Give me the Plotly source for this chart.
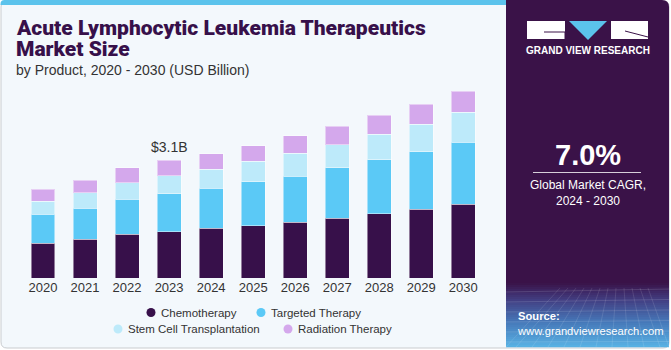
import plotly.graph_objects as go

# ---------------- data ----------------
years = ['2020', '2021', '2022', '2023', '2024', '2025', '2026', '2027', '2028', '2029', '2030']
chemotherapy = [0.91, 1.02, 1.15, 1.22, 1.31, 1.38, 1.47, 1.58, 1.69, 1.81, 1.94]
targeted_therapy = [0.77, 0.82, 0.93, 1.00, 1.05, 1.15, 1.21, 1.32, 1.42, 1.52, 1.63]
stem_cell_transplantation = [0.34, 0.40, 0.43, 0.47, 0.51, 0.55, 0.61, 0.61, 0.67, 0.72, 0.80]
radiation_therapy = [0.32, 0.34, 0.40, 0.41, 0.40, 0.40, 0.45, 0.49, 0.50, 0.53, 0.55]
series_names = ['Chemotherapy', 'Targeted Therapy', 'Stem Cell Transplantation', 'Radiation Therapy']
title_lines = ['Acute Lymphocytic Leukemia Therapeutics', 'Market Size']
subtitle = 'by Product, 2020 - 2030 (USD Billion)'
highlight_year = '2023'
highlight_label = '$3.1B'
cagr_value = '7.0%'
cagr_text = 'Global Market CAGR,<br>2024 - 2030'

series_values = [chemotherapy, targeted_therapy, stem_cell_transplantation, radiation_therapy]
colors = ['#37104A', '#5BC9F6', '#BDEAFA', '#D4A8EC']

W, H = 671, 350
def px(x):
    return x / W
def py(y):
    return 1 - y / H

fig = go.Figure()
for name, vals, col in zip(series_names, series_values, colors):
    fig.add_trace(go.Bar(
        x=years, y=vals, name=name,
        marker=dict(color=col, line=dict(color='rgba(255,255,255,0.45)', width=1)),
        showlegend=False, hoverinfo='skip'))

shapes = []
annotations = []

def rrect(x0, y0, x1, y1, r, tl=True, tr=True, br=True, bl=True):
    X0, X1 = px(x0), px(x1)
    Y0, Y1 = py(y0), py(y1)
    rx, ry = r / W, r / H
    p = f'M {X0 + (rx if tl else 0)},{Y0} '
    p += f'L {X1 - (rx if tr else 0)},{Y0} '
    if tr:
        p += f'Q {X1},{Y0} {X1},{Y0 - ry} '
    p += f'L {X1},{Y1 + (ry if br else 0)} '
    if br:
        p += f'Q {X1},{Y1} {X1 - rx},{Y1} '
    p += f'L {X0 + (rx if bl else 0)},{Y1} '
    if bl:
        p += f'Q {X0},{Y1} {X0},{Y1 + ry} '
    p += f'L {X0},{Y0 - (ry if tl else 0)} '
    if tl:
        p += f'Q {X0},{Y0} {X0 + rx},{Y0} '
    p += 'Z'
    return p

# card background
shapes.append(dict(type='path', xref='paper', yref='paper', layer='below',
                   path=rrect(1, 1, 669, 348, 6), fillcolor='#F3F8FC',
                   line=dict(color='#C9CCCF', width=1)))
# top stripe
shapes.append(dict(type='path', xref='paper', yref='paper', layer='below',
                   path=rrect(0.5, 0, 507, 5, 4, tr=False, br=False, bl=False),
                   fillcolor='#5BC3EC', line=dict(width=0)))
# right panel
shapes.append(dict(type='path', xref='paper', yref='paper', layer='below',
                   path=rrect(506, 0, 669, 347, 7, tl=False, br=False, bl=False),
                   fillcolor='#3A1248', line=dict(width=0)))

# gradient at bottom of panel
def lerp(c1, c2, t):
    return '#%02X%02X%02X' % tuple(int(round(a + (b - a) * t)) for a, b in zip(c1, c2))
stops = [(283, (58, 18, 72)), (300, (66, 62, 130)), (322, (70, 120, 185)), (347, (88, 178, 228))]
n = 32
y_start, y_end = 283, 347
for i in range(n):
    ya = y_start + (y_end - y_start) * i / n
    yb = y_start + (y_end - y_start) * (i + 1) / n
    ym = (ya + yb) / 2
    for (s0, c0), (s1, c1) in zip(stops[:-1], stops[1:]):
        if s0 <= ym <= s1:
            col = lerp(c0, c1, (ym - s0) / (s1 - s0))
            break
    shapes.append(dict(type='rect', xref='paper', yref='paper', layer='below',
                       x0=px(506), x1=px(669), y0=py(ya), y1=py(yb + 0.3),
                       fillcolor=col, line=dict(width=0)))
# faint grid texture
for k in range(6):
    yy = 292 + k * 10
    shapes.append(dict(type='line', xref='paper', yref='paper', layer='below',
                       x0=px(506), x1=px(669), y0=py(yy), y1=py(yy - 3 + k * 0.5),
                       line=dict(color='rgba(255,255,255,0.13)', width=1)))
for k in range(12):
    xb = 500 + k * 16
    shapes.append(dict(type='line', xref='paper', yref='paper', layer='below',
                       x0=px(max(506, min(669, 560 + k * 8))), y0=py(288),
                       x1=px(max(506, min(669, xb))), y1=py(347),
                       line=dict(color='rgba(255,255,255,0.11)', width=1)))

# logo
shapes.append(dict(type='rect', xref='paper', yref='paper', x0=px(527), x1=px(565),
                   y0=py(39), y1=py(21), fillcolor='white', line=dict(width=0)))
shapes.append(dict(type='path', xref='paper', yref='paper',
                   path=f'M {px(544)},{py(32)} L {px(565)},{py(32)} L {px(565)},{py(39)}',
                   line=dict(color='#3A1248', width=1)))
shapes.append(dict(type='path', xref='paper', yref='paper',
                   path=f'M {px(569)},{py(21)} L {px(607)},{py(21)} L {px(588)},{py(40)} Z',
                   fillcolor='#5BC3EC', line=dict(width=0)))
shapes.append(dict(type='rect', xref='paper', yref='paper', x0=px(611), x1=px(648),
                   y0=py(39), y1=py(21), fillcolor='white', line=dict(width=0)))
shapes.append(dict(type='line', xref='paper', yref='paper', x0=px(625), y0=py(31),
                   x1=px(648), y1=py(37), line=dict(color='#3A1248', width=1)))
annotations.append(dict(text='GRAND VIEW RESEARCH', xref='paper', yref='paper',
                        x=px(587.5), y=py(51), xanchor='center', yanchor='middle', showarrow=False,
                        font=dict(family='Liberation Sans', size=10, color='white', weight=700)))

# CAGR block
annotations.append(dict(text=f'<b>{cagr_value}</b>', xref='paper', yref='paper',
                        x=px(588), y=py(155), xanchor='center', yanchor='middle', showarrow=False,
                        font=dict(family='Liberation Sans', size=29, color='white')))
shapes.append(dict(type='line', xref='paper', yref='paper', x0=px(533), x1=px(641),
                   y0=py(172.5), y1=py(172.5), line=dict(color='rgba(255,255,255,0.8)', width=1)))
annotations.append(dict(text=cagr_text, xref='paper', yref='paper',
                        x=px(588), y=py(193), xanchor='center', yanchor='middle', showarrow=False,
                        font=dict(family='Liberation Sans', size=12, color='white')))
annotations.append(dict(text='<b>Source:</b><br>www.grandviewresearch.com', xref='paper', yref='paper',
                        x=px(515), y=py(323), xanchor='left', yanchor='middle', showarrow=False, align='left',
                        font=dict(family='Liberation Sans', size=11.2, color='white')))

# title (two lines placed separately for tight line spacing)
for line, yc in zip(title_lines, [28.5, 48.5]):
    annotations.append(dict(text=line, xref='paper', yref='paper',
                            x=px(13.5), y=py(yc), xanchor='left', yanchor='middle', showarrow=False,
                            font=dict(family='Roboto', size=21, color='#37104A', weight=900)))
annotations.append(dict(text=subtitle, xref='paper', yref='paper',
                        x=px(14), y=py(70), xanchor='left', yanchor='middle', showarrow=False,
                        font=dict(family='Liberation Sans', size=14, color='#333333')))

# highlight label (category index position)
hi = years.index(highlight_year)
total_hi = sum(v[hi] for v in series_values)
annotations.append(dict(text=highlight_label, x=hi, y=total_hi, xref='x', yref='y',
                        xanchor='center', yanchor='bottom', yshift=3, showarrow=False,
                        font=dict(family='Liberation Sans', size=14, color='#333333')))

# legend (manual)
legend_pos = [(151, 312.5), (261, 312.5), (118, 329), (288, 329)]
for name, col, (lx, ly) in zip(series_names, colors, legend_pos):
    r = 4.5
    shapes.append(dict(type='circle', xref='paper', yref='paper',
                       x0=px(lx - r), x1=px(lx + r), y0=py(ly + r), y1=py(ly - r),
                       fillcolor=col, line=dict(width=0)))
    annotations.append(dict(text=name, xref='paper', yref='paper', x=px(lx + 8), y=py(ly),
                            xanchor='left', yanchor='middle', showarrow=False,
                            font=dict(family='Liberation Sans', size=11.5, color='#333333')))

slot = 42.03
x_left = 43 - slot / 2
x_right = x_left + slot * 11
fig.update_layout(
    width=W, height=H,
    margin=dict(l=0, r=0, t=0, b=0, autoexpand=False),
    paper_bgcolor='white', plot_bgcolor='rgba(0,0,0,0)',
    barmode='stack', bargap=0.43,
    shapes=shapes, annotations=annotations,
    xaxis=dict(domain=[px(x_left), px(x_right)], type='category', range=[-0.5, 10.5], autorange=False,
               showline=False, showgrid=False,
               zeroline=False, ticks='', tickfont=dict(family='Liberation Sans', size=13, color='#333333'),
               fixedrange=True),
    yaxis=dict(domain=[py(278), py(278) + 5 * 37.97 / H], range=[0, 5], autorange=False, visible=False,
               showgrid=False, fixedrange=True),
)
fig.write_html('out.html')
